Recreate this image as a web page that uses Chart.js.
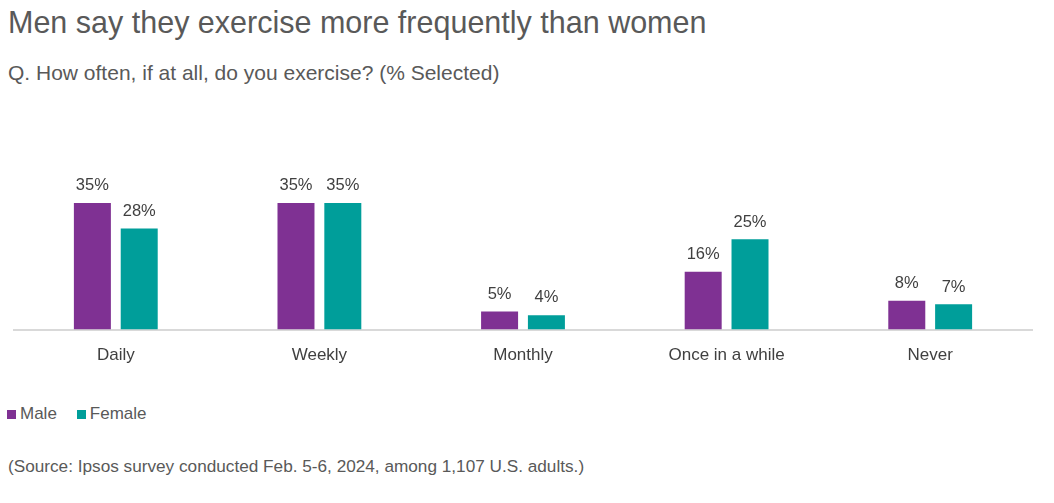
<!DOCTYPE html>
<html>
<head>
<meta charset="utf-8">
<script src="https://cdn.jsdelivr.net/npm/chart.js@4/dist/chart.umd.min.js"></script>
<style>
  body { margin: 0; background: #fff; font-family: "Liberation Sans", Arial, sans-serif; color: #595959; }
  #page { position: relative; width: 1054px; height: 503px; overflow: hidden; }
  .txt { position: absolute; left: 8px; white-space: nowrap; }
  #title { top: 7px; font-size: 30.5px; line-height: 30px; }
  #subtitle { top: 62px; font-size: 21px; line-height: 21px; }
  #legend { top: 405px; left: 7px; font-size: 17px; line-height: 17px; }
  #legend span.item { margin-right: 20px; }
  #legend i { display: inline-block; width: 9px; height: 9px; margin-right: 4px; }
  #source { top: 458px; font-size: 17.2px; line-height: 17px; }
  #chartBox { position: absolute; left: 0; top: 170px; width: 1054px; height: 229px; }
</style>
</head>
<body>
<div id="page">
  <div id="title" class="txt">Men say they exercise more frequently than women</div>
  <div id="subtitle" class="txt">Q. How often, if at all, do you exercise? (% Selected)</div>
  <div id="chartBox"><canvas id="chart"></canvas></div>
  <div id="legend" class="txt"></div>
  <div id="source" class="txt">(Source: Ipsos survey conducted Feb. 5-6, 2024, among 1,107 U.S. adults.)</div>
</div>
<script>
const categories = ["Daily", "Weekly", "Monthly", "Once in a while", "Never"];
const maleValues = [35, 35, 5, 16, 8];
const femaleValues = [28, 35, 4, 25, 7];
const seriesNames = ["Male", "Female"];
const seriesColors = ["#7f3193", "#009e9a"];

// value labels above each bar
const barLabels = {
  id: "barLabels",
  afterDatasetsDraw(chart) {
    const ctx = chart.ctx;
    ctx.save();
    ctx.font = '16.5px "Liberation Sans", Arial, sans-serif';
    ctx.fillStyle = "#404040";
    ctx.textAlign = "center";
    ctx.textBaseline = "bottom";
    chart.data.datasets.forEach((ds, i) => {
      chart.getDatasetMeta(i).data.forEach((bar, j) => {
        ctx.fillText(ds.data[j] + "%", bar.x, bar.y - 9);
      });
    });
    ctx.restore();
  }
};

const chart = new Chart(document.getElementById("chart"), {
  type: "bar",
  data: {
    labels: categories,
    datasets: [
      { label: seriesNames[0], data: maleValues, backgroundColor: seriesColors[0] },
      { label: seriesNames[1], data: femaleValues, backgroundColor: seriesColors[1] }
    ]
  },
  options: {
    responsive: true,
    maintainAspectRatio: false,
    animation: false,
    categoryPercentage: 0.46,
    barPercentage: 0.79,
    layout: { padding: { left: 14, right: 22, top: 15, bottom: 17 } },
    plugins: { legend: { display: false }, tooltip: { enabled: false } },
    scales: {
      x: {
        grid: { display: false, drawTicks: false },
        border: { display: true, color: "#d9d9d9", width: 2 },
        ticks: { color: "#404040", padding: 16, font: { size: 17, family: '"Liberation Sans", Arial, sans-serif' } }
      },
      y: { display: false, min: 0, max: 40 }
    }
  },
  plugins: [barLabels]
});

// legend
document.getElementById("legend").innerHTML = seriesNames.map((n, i) =>
  '<span class="item"><i style="background:' + seriesColors[i] + '"></i>' + n + '</span>'
).join("");
</script>
</body>
</html>
